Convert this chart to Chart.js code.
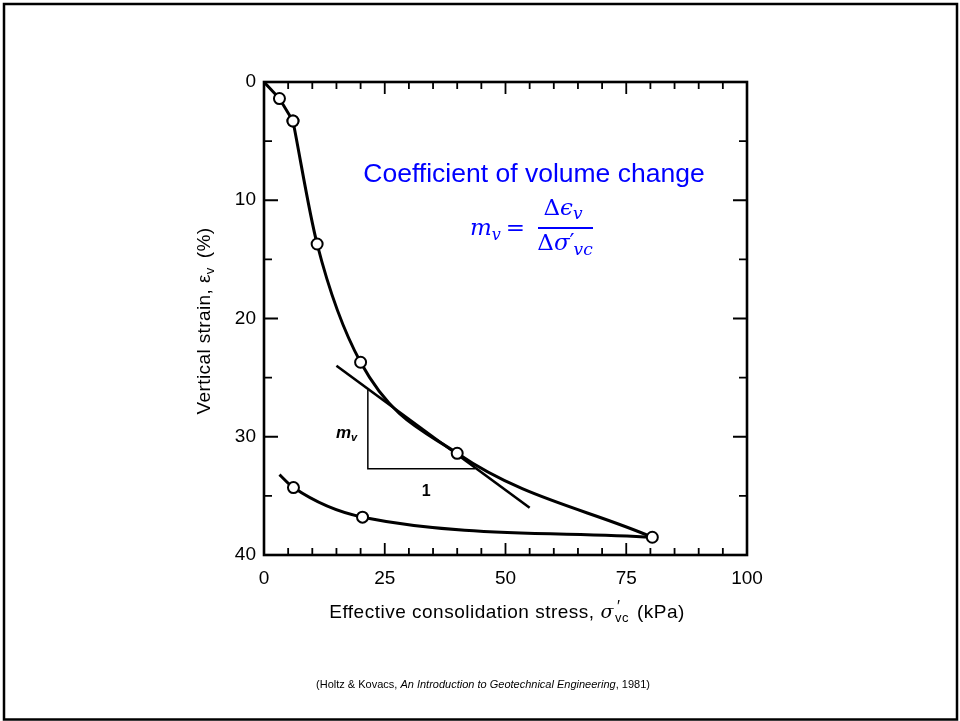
<!DOCTYPE html>
<html>
<head>
<meta charset="utf-8">
<title>Coefficient of volume change</title>
<script src="https://cdn.jsdelivr.net/npm/chart.js@4.4.1/dist/chart.umd.min.js"></script>
<style>
  html, body { margin: 0; padding: 0; background: #fff; }
  #wrap { width: 960px; height: 721px; }
</style>
</head>
<body>
<div id="wrap"><canvas id="consolChart" width="960" height="721"></canvas></div>
<script>
// Oedometer test: effective consolidation stress (kPa) vs vertical strain (%)
const loadStress = [0, 3.2, 6, 11, 20, 40, 80.4];
const loadStrain = [0, 1.4, 3.3, 13.7, 23.7, 31.4, 38.5];
const loadMarked = [false, true, true, true, true, true, true];
// the first few readings are joined by straight pieces, the rest by a smooth curve
const loadBend = 2;

const unloadStress = [3.2, 6.1, 20.4, 80.4];
const unloadStrain = [33.2, 34.3, 36.8, 38.5];
const unloadMarked = [false, true, true, false];

// tangent through the 40 kPa point and its slope triangle
const tangentStress = [15, 55];
const tangentStrain = [24, 36];
const triangleStress = [21.5, 21.5, 43.7];
const triangleStrain = [26, 32.7, 32.7];

const xTickValues = [0, 25, 50, 75, 100];
const yTickValues = [0, 10, 20, 30, 40];

const sans = '"Liberation Sans", Arial, Helvetica, sans-serif';
const serif = '"DejaVu Serif", "Liberation Serif", serif';
const ink = '#000';
const blue = '#0000ff';

function toPoints(xs, ys) {
    return xs.map((v, i) => ({ x: v, y: ys[i] }));
}

// draws a row of text pieces (sub/superscripts etc.) starting at x, or centred on x
function drawRuns(ctx, runs, x, y, align) {
    let total = 0;
    runs.forEach(r => {
        ctx.font = r.font;
        if (r.adv !== false) total += ctx.measureText(r.text).width + (r.gap || 0);
    });
    let cx = align === 'center' ? x - total / 2 : x;
    runs.forEach(r => {
        ctx.font = r.font;
        ctx.fillText(r.text, cx + (r.dx || 0), y + (r.dy || 0));
        if (r.adv !== false) cx += ctx.measureText(r.text).width + (r.gap || 0);
    });
}

const frameAndNotes = {
    id: 'frameAndNotes',
    afterDraw(chart) {
        const { ctx, chartArea: a, scales: { x, y } } = chart;
        ctx.save();

        // slide border
        ctx.strokeStyle = ink;
        ctx.lineWidth = 2.5;
        ctx.strokeRect(4, 4, 953, 715.5);

        // plot box
        ctx.lineWidth = 2.6;
        ctx.strokeRect(a.left, a.top, a.right - a.left, a.bottom - a.top);

        // inward ticks on all four sides
        ctx.lineWidth = 1.8;
        ctx.beginPath();
        for (let v = x.min; v <= x.max; v += 5) {
            const px = x.getPixelForValue(v);
            const len = xTickValues.includes(v) ? 12 : 7;
            ctx.moveTo(px, a.bottom); ctx.lineTo(px, a.bottom - len);
            ctx.moveTo(px, a.top); ctx.lineTo(px, a.top + len);
        }
        for (let v = y.min; v <= y.max; v += 5) {
            const py = y.getPixelForValue(v);
            const len = yTickValues.includes(v) ? 14 : 8;
            ctx.moveTo(a.left, py); ctx.lineTo(a.left + len, py);
            ctx.moveTo(a.right, py); ctx.lineTo(a.right - len, py);
        }
        ctx.stroke();

        ctx.fillStyle = ink;
        ctx.textAlign = 'left';
        ctx.textBaseline = 'alphabetic';

        // y axis title
        ctx.save();
        ctx.translate(210, 321);
        ctx.rotate(-Math.PI / 2);
        ctx.letterSpacing = '0.4px';
        drawRuns(ctx, [
            { text: 'Vertical strain, ε', font: '19px ' + sans },
            { text: 'v', font: '13px ' + sans, dy: 4, gap: 9 },
            { text: '(%)', font: '19px ' + sans }
        ], 0, 0, 'center');
        ctx.restore();

        // x axis title
        ctx.save();
        ctx.letterSpacing = '0.5px';
        drawRuns(ctx, [
            { text: 'Effective consolidation stress, ', font: '19px ' + sans },
            { text: 'σ', font: 'italic 19px ' + serif, gap: 1 },
            { text: '′', font: '16px ' + sans, dy: -6, dx: 2, adv: false },
            { text: 'vc', font: '13px ' + sans, dy: 4, gap: 8 },
            { text: '(kPa)', font: '19px ' + sans }
        ], 507, 618, 'center');
        ctx.restore();

        // slope triangle labels, placed in data units
        drawRuns(ctx, [
            { text: 'm', font: 'italic bold 17px ' + sans },
            { text: 'v', font: 'italic bold 11px ' + sans, dy: 3 }
        ], x.getPixelForValue(14.9), y.getPixelForValue(30.1), 'left');
        ctx.textAlign = 'center';
        ctx.font = 'bold 16px ' + sans;
        ctx.fillText('1', x.getPixelForValue(33.6), y.getPixelForValue(35.0));
        ctx.textAlign = 'left';

        // heading and definition of m_v
        ctx.fillStyle = blue;
        ctx.textAlign = 'center';
        ctx.font = '26.5px ' + sans;
        ctx.fillText('Coefficient of volume change', 534, 182);
        ctx.textAlign = 'left';

        drawRuns(ctx, [
            { text: 'm', font: 'italic 23px ' + serif },
            { text: 'v', font: 'italic 16px ' + serif, dy: 5, gap: 5 },
            { text: '=', font: '23px ' + serif }
        ], 470, 235, 'left');

        ctx.strokeStyle = blue;
        ctx.lineWidth = 2;
        ctx.beginPath();
        ctx.moveTo(538, 228);
        ctx.lineTo(593, 228);
        ctx.stroke();

        drawRuns(ctx, [
            { text: 'Δ', font: '23px ' + serif },
            { text: 'ϵ', font: 'italic 23px ' + serif },
            { text: 'v', font: 'italic 17px ' + serif, dy: 4 }
        ], 563, 215, 'center');
        drawRuns(ctx, [
            { text: 'Δ', font: '23px ' + serif },
            { text: 'σ', font: 'italic 23px ' + serif },
            { text: '′', font: '22px ' + serif, dy: -1, gap: -1 },
            { text: 'vc', font: 'italic 17px ' + serif, dy: 5 }
        ], 565, 250, 'center');

        // source line
        ctx.fillStyle = ink;
        drawRuns(ctx, [
            { text: '(Holtz & Kovacs, ', font: '11px ' + sans },
            { text: 'An Introduction to Geotechnical Engineering', font: 'italic 11px ' + sans },
            { text: ', 1981)', font: '11px ' + sans }
        ], 483, 688, 'center');

        ctx.restore();
    }
};

const curveStyle = {
    borderColor: ink,
    borderWidth: 3,
    pointBackgroundColor: '#fff',
    pointBorderColor: ink,
    pointBorderWidth: 2,
    fill: false
};

const loadPoints = toPoints(loadStress, loadStrain);
const loadRadius = loadMarked.map(m => m ? 5.5 : 0);

new Chart(document.getElementById('consolChart'), {
    type: 'line',
    data: {
        datasets: [
            Object.assign({}, curveStyle, {
                label: 'Loading',
                data: loadPoints.slice(loadBend),
                pointRadius: loadRadius.slice(loadBend),
                cubicInterpolationMode: 'monotone'
            }),
            Object.assign({}, curveStyle, {
                label: 'Loading (first readings)',
                data: loadPoints.slice(0, loadBend + 1),
                pointRadius: loadRadius.slice(0, loadBend + 1),
                tension: 0
            }),
            Object.assign({}, curveStyle, {
                label: 'Unloading',
                data: toPoints(unloadStress, unloadStrain),
                pointRadius: unloadMarked.map(m => m ? 5.5 : 0),
                cubicInterpolationMode: 'monotone'
            }),
            {
                label: 'Tangent',
                data: toPoints(tangentStress, tangentStrain),
                borderColor: ink,
                borderWidth: 2.6,
                pointRadius: 0,
                tension: 0
            },
            {
                label: 'Slope triangle',
                data: toPoints(triangleStress, triangleStrain),
                borderColor: ink,
                borderWidth: 1.5,
                pointRadius: 0,
                tension: 0
            }
        ]
    },
    options: {
        responsive: false,
        animation: false,
        events: [],
        layout: { padding: { left: 0, top: 82, right: 213, bottom: 0 } },
        plugins: {
            legend: { display: false },
            tooltip: { enabled: false }
        },
        scales: {
            x: {
                type: 'linear',
                min: 0,
                max: 100,
                afterBuildTicks: s => { s.ticks = xTickValues.map(v => ({ value: v })); },
                afterFit: s => { s.height = 166; },
                grid: { display: false, drawTicks: false },
                border: { display: false },
                ticks: {
                    color: ink,
                    font: { family: sans, size: 19 },
                    padding: 12,
                    maxRotation: 0,
                    autoSkip: false
                }
            },
            y: {
                type: 'linear',
                min: 0,
                max: 40,
                reverse: true,
                afterBuildTicks: s => { s.ticks = yTickValues.map(v => ({ value: v })); },
                afterFit: s => { s.width = 264; },
                grid: { display: false, drawTicks: false },
                border: { display: false },
                ticks: {
                    color: ink,
                    font: { family: sans, size: 19 },
                    padding: 8,
                    autoSkip: false
                }
            }
        }
    },
    plugins: [frameAndNotes]
});
</script>
</body>
</html>
